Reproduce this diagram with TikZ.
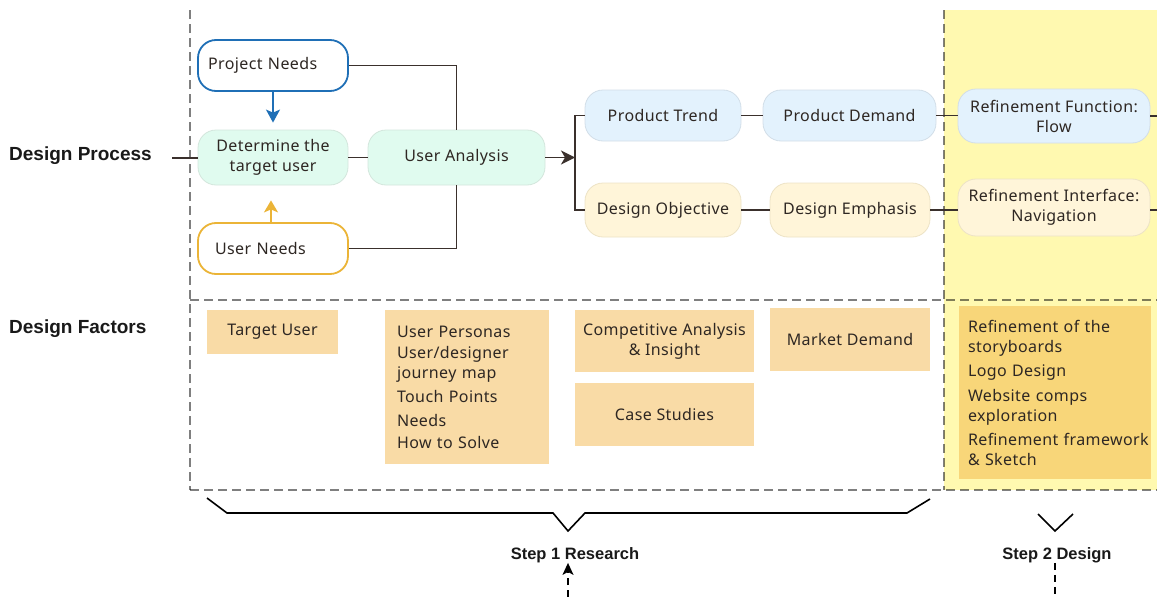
\documentclass[tikz,border=0pt]{standalone}
\usepackage{fontspec}
\setmainfont{Noto Sans}[LetterSpace=2.5]
\newfontfamily\headfont{Liberation Sans}
\usetikzlibrary{arrows.meta}

\definecolor{ink}{HTML}{3A302C}
\definecolor{blueedge}{HTML}{1F6FB6}
\definecolor{goldedge}{HTML}{EBB437}
\definecolor{mint}{HTML}{E0FBEF}
\definecolor{mintedge}{HTML}{D3E6DC}
\definecolor{sky}{HTML}{E3F2FD}
\definecolor{skyedge}{HTML}{D2DEE8}
\definecolor{cream}{HTML}{FFF5D9}
\definecolor{creamedge}{HTML}{EDE3C6}
\definecolor{sand}{HTML}{F9DBA6}
\definecolor{lemon}{HTML}{FFF9B0}
\definecolor{honey}{HTML}{F8D679}

\tikzset{
  body/.style={font=\fontsize{16}{20}\selectfont, text=ink!80!black},
  pill/.style={body, rounded corners=18pt, align=center, inner sep=0pt},
  outlined/.style={pill, fill=white, line width=1.8pt},
  soft/.style={pill, line width=0.8pt},
  greenpill/.style={soft, fill=mint, draw=mintedge},
  bluepill/.style={soft, fill=sky, draw=skyedge},
  creampill/.style={soft, fill=cream, draw=creamedge},
  factor/.style={body, inner sep=0pt, align=center},
  conn/.style={draw=ink, line width=1.8pt},
  guide/.style={draw=black, draw opacity=0.5, line width=1.3pt, dash pattern=on 9pt off 5pt},
  brace/.style={draw=black, line width=1.6pt},
  headlabel/.style={font=\headfont\bfseries\fontsize{19}{22}\selectfont, text=black!90, inner sep=0pt},
  steplabel/.style={font=\headfont\bfseries\fontsize{16.5}{20}\selectfont, text=black!90, inner sep=0pt},
}

\begin{document}
\begin{tikzpicture}[x=1pt,y=-1pt]
\useasboundingbox (0,0) rectangle (1157,597);

% Step 2 band
\fill[lemon] (944,10) rectangle (1157,490);

% section guides
\draw[guide] (190,10) -- (190,490);
\draw[guide] (944,10) -- (944,490);
\draw[guide] (190,300) -- (1157,300);
\draw[guide] (190,490) -- (1157,490);

% row labels
\node[headlabel, anchor=west] (dp) at (9,156) {Design Process};
\node[headlabel, anchor=west] (df) at (9,329) {Design Factors};

% process nodes
\node[outlined, draw=blueedge, minimum width=150pt, minimum height=51pt,
      text width=130pt, align=left] (pn) at (273,65.5) {Project Needs};
\node[greenpill, minimum width=150pt, minimum height=55pt] (dt) at (273,157.5) {Determine the\\target user};
\node[outlined, draw=goldedge, minimum width=150pt, minimum height=51pt,
      text width=116pt, align=left] (un) at (273,248.5) {User Needs};
\node[greenpill, minimum width=177pt, minimum height=55pt] (ua) at (456.5,157.5) {User Analysis};
\node[bluepill, minimum width=156pt, minimum height=51pt] (pt) at (663,115.5) {Product Trend};
\node[bluepill, minimum width=173pt, minimum height=51pt] (pd) at (849.5,115.5) {Product Demand};
\node[creampill, minimum width=156pt, minimum height=54pt] (do) at (663,210) {Design Objective};
\node[creampill, minimum width=160pt, minimum height=54pt] (de) at (850,210) {Design Emphasis};
\node[bluepill, minimum width=192pt, minimum height=54pt] (rf) at (1054,116) {Refinement Function:\\Flow};
\node[creampill, minimum width=192pt, minimum height=57pt] (ri) at (1054,207.5) {Refinement Interface:\\Navigation};

% free ends of the process lines
\coordinate (dpin) at (172,158);
\coordinate (split) at (575,157.5);
\coordinate (rfend) at (1157,116);
\coordinate (riend) at (1157,210);

% process connectors
\draw[conn] (dpin) -- (dpin -| dt.west);
\draw[conn] (dt.east) -- (ua.west);
\draw[conn] (pn.east) -| (ua.north);
\draw[conn] (un.east) -| (ua.south);
\draw[draw=blueedge, line width=1.8pt, -{Stealth[length=13pt, width=14pt, inset=3pt]}]
  (pn.south) -- ([yshift=7pt]dt.north);
\draw[draw=goldedge, line width=1.8pt, -{Stealth[length=12pt, width=14pt, inset=3pt]}]
  ([xshift=-2pt]un.north) -- ([xshift=-2pt, yshift=-15pt]dt.south);
\draw[conn, -{Stealth[length=14pt, width=14pt, inset=4pt]}] (ua.east) -- (split);
\draw[conn] (pt.west) -| (split);
\draw[conn] (do.west) -| (split);
\draw[conn] (pt.east) -- (pd.west);
\draw[conn] (pd.east) -- (pd.east -| rf.west);
\draw[conn] (rf.east) -- (rfend);
\draw[conn] (do.east) -- (de.west);
\draw[conn] (de.east) -- (de.east -| ri.west);
\draw[conn] (riend -| ri.east) -- (riend);

% factor boxes
\node[factor, fill=sand, minimum width=131pt, minimum height=44pt] (tu) at (272.5,332) {Target User};
\node[factor, fill=sand, minimum width=164pt, minimum height=154pt, text width=140pt, align=left] (up) at (467,387)
  {User Personas\\[1pt] User/designer\\ journey map\\[4pt] Touch Points\\[4pt] Needs\\[2pt] How to Solve};
\node[factor, fill=sand, minimum width=179pt, minimum height=62pt] (ca) at (664.5,341) {Competitive Analysis\\\& Insight};
\node[factor, fill=sand, minimum width=179pt, minimum height=63pt] (cs) at (664.5,414.5) {Case Studies};
\node[factor, fill=sand, minimum width=160pt, minimum height=63pt] (md) at (850,339.5) {Market Demand};
\node[factor, fill=honey, minimum width=192pt, minimum height=173pt, text width=174pt, align=left] (sb) at (1055,392.5)
  {Refinement of the\\ storyboards\\[4pt] Logo Design\\[5pt] Website comps\\ exploration\\[4pt] \mbox{Refinement framework}\\ \& Sketch};

% step brackets
\draw[brace] (207,498) -- (227,513) -- (553,513) -- (568,531) -- (585,513) -- (907,513) -- (930,499);
\draw[brace] (1038,514) -- (1055,531) -- (1073,514);

% step labels
\node[steplabel] (s1) at (575,555) {Step 1 Research};
\node[steplabel] (s2) at (1057,555) {Step 2 Design};

\coordinate (s1in) at (568,597);
\coordinate (s2out) at (1055,597);
\draw[draw=black, line width=1.3pt, dash pattern=on 7pt off 5pt, -{Stealth[length=12pt, width=11pt, inset=3pt]}]
  (s1in) -- (s1in |- s1.south);
\draw[draw=black, line width=1.3pt, dash pattern=on 7pt off 5pt] (s2out |- s2.south) -- (s2out);
\end{tikzpicture}
\end{document}
